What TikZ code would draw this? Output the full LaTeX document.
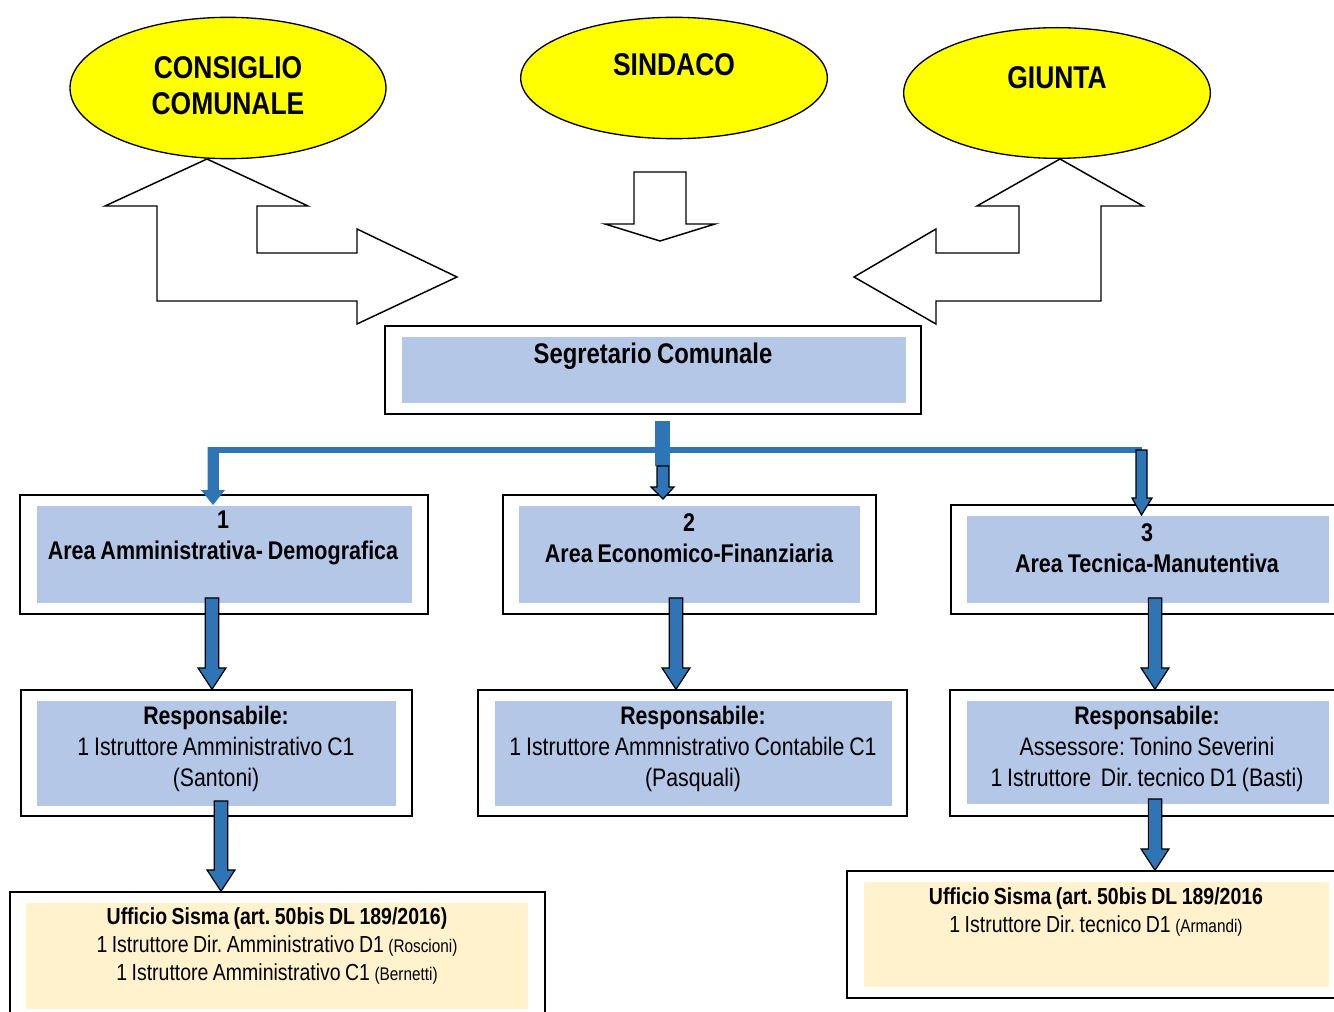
\documentclass[tikz,border=0pt]{standalone}
\usepackage{fontspec}
\setmainfont{Liberation Sans}[FakeStretch=0.84, WordSpace=0.82]
\frenchspacing
\usetikzlibrary{shapes.geometric,fit,calc}

\definecolor{giallo}{HTML}{FFFF00}
\definecolor{azzurro}{HTML}{B4C7E7}
\definecolor{crema}{HTML}{FFF2CC}
\definecolor{blu}{HTML}{2E75B6}

\tikzset{
  organo/.style={ellipse, draw=black, line width=1pt, fill=giallo, inner sep=0pt},
  cornice/.style={draw=black, line width=1.1pt, inner sep=0pt},
  fondoarea/.style={fill=azzurro, inner sep=0pt},
  fondosisma/.style={fill=crema, inner sep=0pt},
  freccia/.style={draw=black, line width=1.1pt, fill=white, line join=miter},
  blk/.style={draw=black, line width=0.9pt, fill=blu, line join=miter},
  titolo/.style={font=\fontsize{23.6}{27}\selectfont\bfseries, align=center},
  txtarea/.style={font=\fontsize{19.2}{23}\selectfont\bfseries, align=center},
  txtresp/.style={font=\fontsize{19}{23}\selectfont, align=center},
  txtsisma/.style={font=\fontsize{17.4}{21}\selectfont, align=center}
}

\newcommand\nomi[1]{{\fontsize{13.7}{15}\selectfont #1}}
\newcommand\giu[3]{%
  \path[blk] let \p1=(#1,0 |- #2.south), \p2=(#1,0 |- #3.north) in
    (\x1-5pt,\y1+4pt) -- (\x1+5pt,\y1+4pt) -- (\x1+5pt,\y2+16pt) -- (\x1+10.5pt,\y2+16pt)
    -- (\x1,\y2) -- (\x1-10.5pt,\y2+16pt) -- (\x1-5pt,\y2+16pt) -- cycle;}

\begin{document}
\begin{tikzpicture}[x=0.75pt, y=-0.75pt]
  \useasboundingbox (0,0) rectangle (1334,1012);
  \clip (0,0) rectangle (1334,1012);

  \node[organo, minimum width=237pt, minimum height=106pt] (consiglio) at (228,88) {};
  \node[organo, minimum width=230pt, minimum height=91pt] (sindaco) at (674,78) {};
  \node[organo, minimum width=230pt, minimum height=98pt] (giunta) at (1057,93) {};
  \node[titolo] (consiglioT) at (228,86) {CONSIGLIO\\COMUNALE};
  \node[titolo] (sindacoT) at (674,65) {SINDACO};
  \node[titolo] (giuntaT) at (1057,78) {GIUNTA};

  \draw[freccia] (207,159) -- (308,206) -- (257,206) -- (257,253) -- (357,253) -- (357,229)
    -- (457,277) -- (357,324) -- (357,301) -- (157,301) -- (157,206) -- (105,206) -- cycle;
  \draw[freccia] (634,172) -- (686,172) -- (686,224) -- (715,224) -- (660,241) -- (605,224)
    -- (634,224) -- cycle;
  \draw[freccia] (1060,159) -- (1143,206) -- (1101,206) -- (1101,301) -- (936,301) -- (936,324)
    -- (854,277) -- (936,229) -- (936,253) -- (1019,253) -- (1019,206) -- (977,206) -- cycle;

  \node[cornice, fit={(385,326) (921,414)}] (segO) {};
  \node[fondoarea, fit={(402,337) (906,403)}] (segI) {};
  \node[font=\fontsize{21.3}{24}\selectfont\bfseries] (seg) at (653,356) {Segretario Comunale};

  \node[cornice, fit={(20,495) (428,614)}] (a1O) {};
  \node[fondoarea, fit={(37,506) (412,603)}] (a1I) {};
  \node[txtarea] (a1) at (223,538) {1\\Area Amministrativa- Demografica};

  \node[cornice, fit={(503,495) (876,614)}] (a2O) {};
  \node[fondoarea, fit={(519,506) (860,603)}] (a2I) {};
  \node[txtarea] (a2) at (689,538) {2\\Area Economico-Finanziaria};

  \node[cornice, fit={(951,505) (1340,614)}] (a3O) {};
  \node[fondoarea, fit={(967,516) (1329,603)}] (a3I) {};
  \node[txtarea] (a3) at (1147,548) {3\\Area Tecnica-Manutentiva};

  \node[cornice, fit={(21,690) (412,816)}] (r1O) {};
  \node[fondoarea, fit={(37,701) (396,806)}] (r1I) {};
  \node[txtresp] (r1) at (216,749) {\textbf{Responsabile:}\\1 Istruttore Amministrativo C1\\(Santoni)};

  \node[cornice, fit={(478,690) (907,816)}] (r2O) {};
  \node[fondoarea, fit={(495,701) (892,806)}] (r2I) {};
  \node[txtresp] (r2) at (693,749) {\textbf{Responsabile:}\\1 Istruttore Ammnistrativo Contabile C1\\(Pasquali)};

  \node[cornice, fit={(950,690) (1340,816)}] (r3O) {};
  \node[fondoarea, fit={(967,701) (1329,804)}] (r3I) {};
  \node[txtresp] (r3) at (1147,749) {\textbf{Responsabile:}\\Assessore: Tonino Severini\\1 Istruttore\ \ Dir. tecnico D1 (Basti)};

  \node[cornice, fit={(10,892) (545,1020)}] (u1O) {};
  \node[fondosisma, fit={(26,903) (528,1009)}] (u1I) {};
  \node[txtsisma] (u1) at (277,946) {\textbf{Ufficio Sisma (art. 50bis DL 189/2016)}\\
    1 Istruttore Dir. Amministrativo D1 \nomi{(Roscioni)}\\1 Istruttore Amministrativo C1 \nomi{(Bernetti)}};

  \node[cornice, fit={(847,871) (1340,998)}] (u2O) {};
  \node[fondosisma, fit={(864,882) (1329,987)}] (u2I) {};
  \node[txtsisma] (u2) at (1096,912) {\textbf{Ufficio Sisma (art. 50bis DL 189/2016}\\
    1 Istruttore Dir. tecnico D1 \nomi{(Armandi)}};

  \fill[blu] (655,421) rectangle (670,466);
  \draw[blu, line width=4pt] (208,450) -- (1142,450);
  \fill[blu] (207.6,447) -- (218.75,447) -- (218.75,490) -- (225,490) -- (213,505) -- (201,490)
    -- (207.6,490) -- cycle;
  \path[blk] (657,466) -- (669,466) -- (669,487) -- (674,487) -- (663,499) -- (651,487)
    -- (657,487) -- cycle;
  \path[blk] (1136,450) -- (1147,450) -- (1147,498) -- (1152,498) -- (1141.5,515) -- (1132,498)
    -- (1136,498) -- cycle;

  \giu{212}{a1I}{r1O}
  \giu{676}{a2I}{r2O}
  \giu{1155}{a3I}{r3O}
  \giu{221}{r1I}{u1O}
  \giu{1155}{r3I}{u2O}
\end{tikzpicture}
\end{document}
